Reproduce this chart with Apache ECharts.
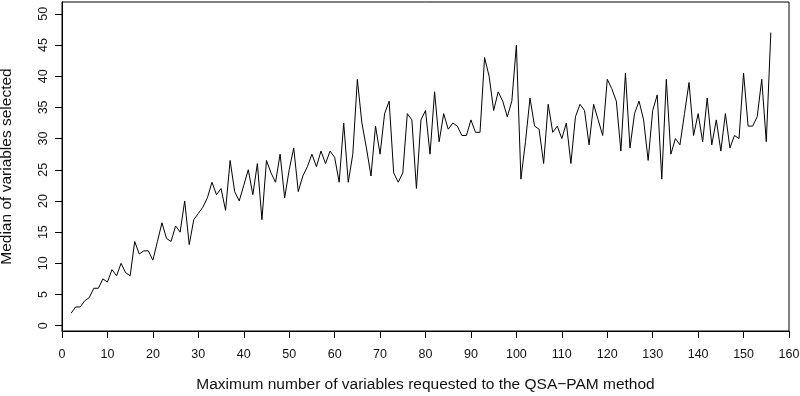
<!DOCTYPE html>
<html>
<head>
<meta charset="utf-8">
<script src="https://cdn.jsdelivr.net/npm/echarts@6.0.0/dist/echarts.min.js"></script>
<style>
html, body { margin: 0; padding: 0; background: #fff; }
#chart { width: 800px; height: 396px; }
</style>
</head>
<body>
<div id="chart"></div>
<script>
// max number of variables requested (x) and median selected (y)
var maxRequested = [
  2, 3, 4, 5, 6, 7, 8, 9, 10, 11, 12, 13, 14, 15, 16, 17, 18, 19, 20,
  21, 22, 23, 24, 25, 26, 27, 28, 29, 30, 31, 32, 33, 34, 35, 36, 37, 38, 39, 40,
  41, 42, 43, 44, 45, 46, 47, 48, 49, 50, 51, 52, 53, 54, 55, 56, 57, 58, 59, 60,
  61, 62, 63, 64, 65, 66, 67, 68, 69, 70, 71, 72, 73, 74, 75, 76, 77, 78, 79, 80,
  81, 82, 83, 84, 85, 86, 87, 88, 89, 90, 91, 92, 93, 94, 95, 96, 97, 98, 99, 100,
  101, 102, 103, 104, 105, 106, 107, 108, 109, 110, 111, 112, 113, 114, 115, 116, 117, 118, 119, 120,
  121, 122, 123, 124, 125, 126, 127, 128, 129, 130, 131, 132, 133, 134, 135, 136, 137, 138, 139, 140,
  141, 142, 143, 144, 145, 146, 147, 148, 149, 150, 151, 152, 153, 154, 155, 156
];
var medianSelected = [
  2, 3, 3, 4, 4.5, 6, 6, 7.5, 7, 9, 8, 10, 8.5, 8, 13.5, 11.5, 12, 12, 10.5,
  13.5, 16.5, 14, 13.5, 16, 15, 20, 13, 17, 18, 19, 20.5, 23, 21, 22, 18.5, 26.5, 21.5, 20, 22.5,
  25, 21, 26, 17, 26.5, 24.5, 23, 27.5, 20.5, 25, 28.5, 21.5, 24, 25.5, 27.5, 25.5, 28, 26, 28, 27,
  23, 32.5, 23, 27.5, 39.5, 32.5, 28.5, 24, 32, 27.5, 34, 36, 24.5, 23, 24.5, 34, 33, 22, 33, 34.5,
  27.5, 37.5, 29.5, 34, 31.5, 32.5, 32, 30.5, 30.5, 33, 31, 31, 43, 40, 34.5, 37.5, 36, 33.5, 36, 45,
  23.5, 29.5, 36.5, 32, 31.5, 26, 35.5, 31, 32, 30, 32.5, 26, 33.5, 35.5, 34.5, 29, 35.5, 33, 30.5, 39.5,
  38, 36, 28, 40.5, 28.5, 34, 36, 33, 26.5, 34.5, 37, 23.5, 39.5, 27.5, 30, 29, 34, 39, 30.5, 34,
  29.5, 36.5, 29, 33, 28, 34, 28.5, 30.5, 30, 40.5, 32, 32, 33.5, 39.5, 29.5, 47
];
var yTicks = [0, 5, 10, 15, 20, 25, 30, 35, 40, 45, 50];

var chart = echarts.init(document.getElementById('chart'));
var points = maxRequested.map(function (x, i) { return [x, medianSelected[i]]; });
var font = '"Liberation Sans", Arial, Helvetica, sans-serif';

var option = {
    animation: false,
    textStyle: { fontFamily: font },
    grid: {
        left: 62,
        right: 11,
        top: 2,
        bottom: 65,
        show: true,
        borderColor: '#000',
        borderWidth: 1,
        containLabel: false,
        outerBoundsMode: 'none'
    },
    xAxis: {
        type: 'value',
        min: 0,
        max: 160,
        interval: 10,
        name: 'Maximum number of variables requested to the QSA\u2212PAM method',
        nameLocation: 'middle',
        nameGap: 46,
        nameTextStyle: { fontFamily: font, fontSize: 15.5, color: '#111' },
        axisLine: { show: true, onZero: false, lineStyle: { color: '#000', width: 1 } },
        axisTick: { show: true, inside: false, length: 7, lineStyle: { color: '#000' } },
        axisLabel: { fontFamily: font, fontSize: 12.5, color: '#111', margin: 17, showMinLabel: true, showMaxLabel: true },
        splitLine: { show: false }
    },
    yAxis: {
        type: 'value',
        min: -0.85,
        max: 51.9,
        name: 'Median of variables selected',
        nameLocation: 'middle',
        nameGap: 47,
        nameTextStyle: { fontFamily: font, fontSize: 15.5, color: '#111' },
        axisLine: { show: true, onZero: false, lineStyle: { color: '#000', width: 1 } },
        axisTick: { show: true, inside: false, length: 7, customValues: yTicks, lineStyle: { color: '#000' } },
        axisLabel: { fontFamily: font, fontSize: 12.5, color: '#111', rotate: 90, margin: 12, customValues: yTicks },
        splitLine: { show: false }
    },
    series: [
        {
            type: 'line',
            data: points,
            symbol: 'none',
            silent: true,
            lineStyle: { color: '#000', width: 1 }
        }
    ]
};
chart.setOption(option);
</script>
</body>
</html>
